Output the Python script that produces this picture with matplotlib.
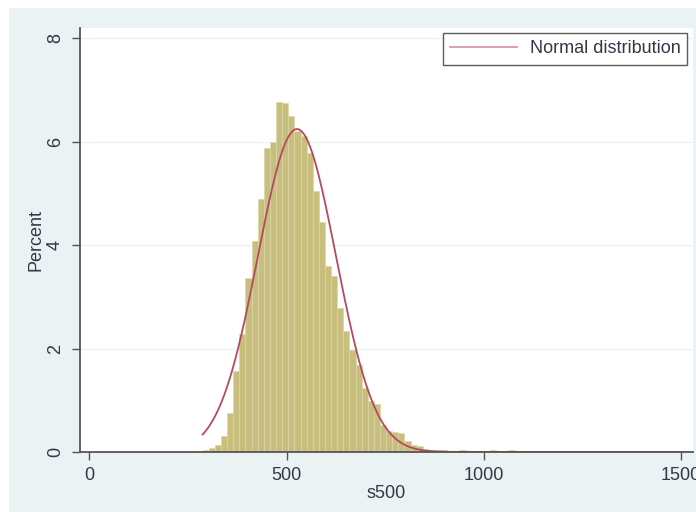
#!/usr/bin/env python3

"""Stata-style histogram of s500 with a normal density overlay."""

import matplotlib

matplotlib.use("Agg")
import matplotlib.pyplot as plt
import numpy as np
from matplotlib.patches import Rectangle

# histogram: percent of observations per bin, bins start at BIN_START
BIN_START = 287.0
BIN_WIDTH = 15.5
PERCENT = [
    0.03, 0.07, 0.14, 0.30, 0.76, 1.56, 2.29, 3.37, 4.08, 4.89,
    5.88, 6.00, 6.77, 6.74, 6.50, 6.20, 6.12, 5.79, 5.05, 4.44,
    3.60, 3.40, 2.79, 2.34, 1.98, 1.69, 1.24, 0.98, 0.92, 0.53,
    0.40, 0.39, 0.37, 0.21, 0.13, 0.11, 0.05, 0.04, 0.03, 0.03,
    0.02, 0.01, 0.03, 0.02, 0.01, 0.01, 0.02, 0.03, 0.02, 0.02,
    0.03, 0.02, 0.02, 0.01, 0.02, 0.01, 0.01, 0.00, 0.01, 0.01,
    0.00, 0.02, 0.01, 0.00, 0.01, 0.01, 0.00, 0.02, 0.01, 0.00,
    0.00, 0.01, 0.00, 0.00, 0.00, 0.01, 0.00, 0.00, 0.01,
]

# fitted normal curve
NORMAL_MEAN = 526.0
NORMAL_SD = 99.0

X_TICKS = [0, 500, 1000, 1500]
Y_TICKS = [0, 2, 4, 6, 8]
X_LABEL = "s500"
Y_LABEL = "Percent"
LEGEND_LABEL = "Normal distribution"

REGION_COLOR = "#eaf2f3"
BAR_COLOR = "#c8bf7e"
BAR_EDGE = "#dcd6a8"
CURVE_COLOR = "#b44a60"
TEXT_COLOR = "#363648"
AXIS_COLOR = "#555555"


def main() -> None:
    plt.rcParams["font.family"] = ["Liberation Sans", "DejaVu Sans"]

    fig = plt.figure(figsize=(6.96, 5.12), dpi=100, facecolor="white")
    W, H = 696.0, 512.0
    fig.add_artist(
        Rectangle((9 / W, 0), 1 - 9 / W, (H - 8) / H, transform=fig.transFigure,
                  facecolor=REGION_COLOR, edgecolor="none", zorder=-10)
    )
    ax = fig.add_axes([80 / W, 1 - 452 / H, (693 - 80) / W, (452 - 28) / H])
    ax.set_zorder(1)
    ax.set_facecolor("white")

    edges = BIN_START + BIN_WIDTH * np.arange(len(PERCENT))
    ax.bar(edges, PERCENT, width=BIN_WIDTH, align="edge", color=BAR_COLOR,
           edgecolor=BAR_EDGE, linewidth=0.5, zorder=2)

    xs = np.linspace(BIN_START, edges[-1] + BIN_WIDTH, 600)
    dens = np.exp(-0.5 * ((xs - NORMAL_MEAN) / NORMAL_SD) ** 2) / (NORMAL_SD * np.sqrt(2 * np.pi))
    ax.plot(xs, 100 * BIN_WIDTH * dens, color=CURVE_COLOR, linewidth=1.3,
            label=LEGEND_LABEL, zorder=3)

    ax.set_xlim(-24, 1530)
    ax.set_ylim(0, 8.2)
    ax.set_xticks(X_TICKS)
    ax.set_yticks(Y_TICKS)
    ax.grid(True, axis="y", color=REGION_COLOR, linewidth=0.9, zorder=1)
    ax.set_axisbelow(True)

    for side in ("top", "right"):
        ax.spines[side].set_visible(False)
    for side in ("left", "bottom"):
        ax.spines[side].set_color(AXIS_COLOR)
        ax.spines[side].set_linewidth(1.3)
        ax.spines[side].set_zorder(4)

    ax.tick_params(axis="both", direction="out", length=5.5, width=1.0,
                   color=AXIS_COLOR, labelcolor=TEXT_COLOR, labelsize=13)
    ax.tick_params(axis="x", pad=5)
    ax.tick_params(axis="y", pad=6)
    for lab in ax.get_yticklabels():
        lab.set_rotation(90)
        lab.set_va("center")

    ax.set_xlabel(X_LABEL, fontsize=13, color=TEXT_COLOR, labelpad=1)
    ax.set_ylabel(Y_LABEL, fontsize=13, color=TEXT_COLOR, va="center")
    ax.yaxis.set_label_coords(-0.071, 0.5)

    leg = ax.legend(loc="upper right", bbox_to_anchor=(0.991, 0.988), fontsize=13,
                    frameon=True, fancybox=False, handlelength=3.7, handletextpad=0.7,
                    borderpad=0.4, borderaxespad=0.0, labelcolor=TEXT_COLOR)
    leg.get_frame().set_edgecolor("#333333")
    leg.get_frame().set_linewidth(1.0)
    leg.get_lines()[0].set_color("#d49aa6")

    fig.savefig("out.png", dpi=100, facecolor=fig.get_facecolor())
    plt.close(fig)


if __name__ == "__main__":
    main()
